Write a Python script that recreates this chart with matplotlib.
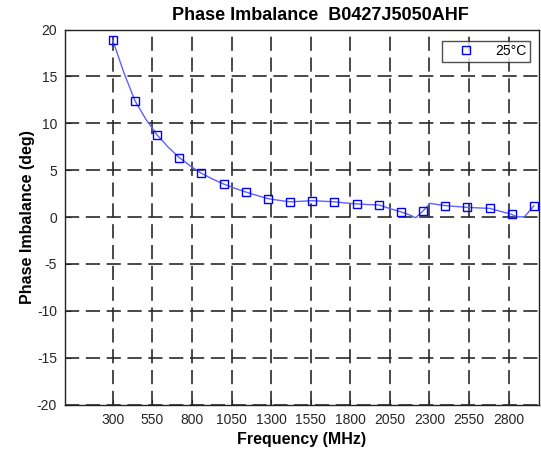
import matplotlib
matplotlib.use("Agg")
import matplotlib.pyplot as plt
import numpy as np

plt.rcParams['font.family'] = ['Liberation Sans', 'DejaVu Sans']
plt.rcParams['axes.unicode_minus'] = False

title = "Phase Imbalance  B0427J5050AHF"
xlabel = "Frequency (MHz)"
ylabel = "Phase Imbalance (deg)"
legend_label = "25°C"

# dense measured trace
line_freq = [300, 370, 440, 510, 580, 650, 720, 790, 860, 930, 1000, 1070, 1140,
             1210, 1280, 1350, 1420, 1490, 1560, 1630, 1700, 1770, 1840, 1910,
             1980, 2050, 2120, 2170, 2214, 2260, 2304, 2350, 2400, 2470, 2540,
             2610, 2680, 2750, 2820, 2850, 2900, 2960]
line_phase = [18.85, 15.4, 12.4, 10.4, 8.75, 7.45, 6.33, 5.45, 4.66, 4.05, 3.52,
              3.07, 2.67, 2.3, 1.96, 1.78, 1.62, 1.68, 1.74, 1.68, 1.62, 1.5,
              1.4, 1.33, 1.29, 0.9, 0.55, 0.25, -0.07, 0.65, 1.46, 1.33, 1.22,
              1.12, 1.03, 0.97, 0.92, 0.6, 0.28, 0.02, 0.02, 1.19]

# marker samples
mk_freq = [300, 440, 580, 720, 860, 1000, 1140, 1280, 1420, 1560, 1700, 1840,
           1980, 2120, 2260, 2400, 2540, 2680, 2820, 2960]
mk_phase = [18.85, 12.4, 8.75, 6.33, 4.66, 3.52, 2.67, 1.96, 1.62, 1.74, 1.62,
            1.4, 1.29, 0.55, 0.65, 1.22, 1.03, 0.92, 0.28, 1.19]

xticks = [300, 550, 800, 1050, 1300, 1550, 1800, 2050, 2300, 2550, 2800]
yticks = [-20, -15, -10, -5, 0, 5, 10, 15, 20]

fig = plt.figure(figsize=(5.41, 4.54), dpi=100)
ax = fig.add_axes([0.1207, 0.109, 0.8750, 0.826])

ax.plot(line_freq, line_phase, color='#6060ff', lw=1.0, zorder=3)
ax.plot(mk_freq, mk_phase, linestyle='none', marker='s', markersize=6,
        markerfacecolor='none', markeredgecolor='#0000ff', markeredgewidth=1.0,
        label=legend_label, zorder=4, clip_on=False)

ax.set_xlim(0, 2990)
ax.set_ylim(-20, 20)
ax.set_xticks(xticks)
ax.set_yticks(yticks)
ax.tick_params(direction='in', length=4, labelsize=10, colors='#262626',
               top=False, right=False, pad=6)
ax.grid(True, color='#2a2a2a', linestyle=(0, (8.5, 4)), linewidth=1.2, zorder=1)
ax.set_axisbelow(True)
for s in ax.spines.values():
    s.set_color('#222222')
    s.set_linewidth(1.0)

ax.set_title(title, fontsize=13, fontweight='bold', pad=7, x=0.538)
ax.set_xlabel(xlabel, fontsize=11.5, fontweight='bold', labelpad=4)
ax.set_ylabel(ylabel, fontsize=11.5, fontweight='bold', labelpad=1)

leg = ax.legend(loc='upper right', bbox_to_anchor=(0.982, 0.97), fontsize=10,
                frameon=True, fancybox=False, edgecolor='#222222',
                handlelength=3.0, handletextpad=0.6, borderpad=0.25,
                borderaxespad=0.0, markerfirst=True)
leg.get_frame().set_linewidth(1.0)

fig.savefig("out.png", dpi=100)
